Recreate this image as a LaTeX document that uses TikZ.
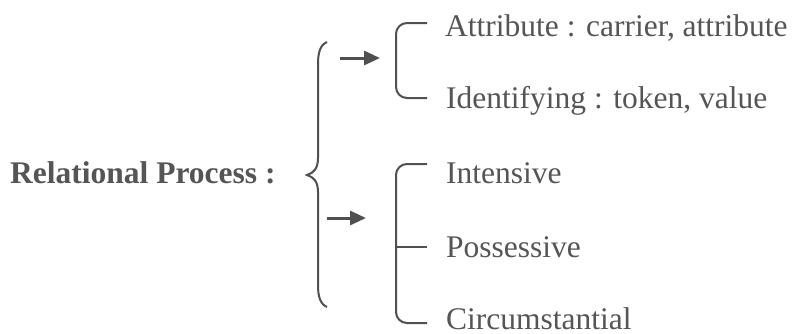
\documentclass[tikz,border=0pt]{standalone}
\usepackage{fontspec}
\setmainfont{Liberation Serif}
\usetikzlibrary{arrows.meta}
\definecolor{ink}{HTML}{555555}
\definecolor{rule}{HTML}{505050}
\begin{document}
\begin{tikzpicture}[x=1pt,y=-1pt,
  label/.style={anchor=base west,inner sep=0pt,text=ink,font=\fontsize{31.5}{34}\selectfont},
  head/.style={label,font=\fontsize{31.5}{34}\selectfont\bfseries},
  bracketline/.style={draw=rule,line width=2pt,rounded corners=11pt},
  braceline/.style={draw=rule,line width=2pt},
  pointer/.style={draw=rule,line width=3pt,-{Triangle[length=16pt,width=14pt]}}]
\useasboundingbox (0,0) rectangle (793,333);

% main label
\node[head] (rel) at (10,183) {Relational Process :};

% upper group
\node[label] (attr)  at (445,36)  {Attribute : carrier, attribute};
\node[label] (ident) at (446,108) {Identifying : token, value};

% lower group
\node[label] (inten) at (446,183) {Intensive};
\node[label] (poss)  at (446,257) {Possessive};
\node[label] (circ)  at (446,329) {Circumstantial};

% large curly brace
\draw[braceline] (327,42) .. controls (320,45) and (318,53) .. (318,64)
  -- (318,158) .. controls (318,168) and (314,173) .. (307,175)
  .. controls (314,177) and (318,182) .. (318,192)
  -- (318,285) .. controls (318,296) and (320,304) .. (327,307);

% arrows into the two groups
\coordinate (a1s) at (340,58);
\coordinate (a1e) at (380,58);
\coordinate (a2s) at (327,218);
\coordinate (a2e) at (366,218);
\draw[pointer] (a1s) -- (a1e);
\draw[pointer] (a2s) -- (a2e);

% bracket of the upper group
\draw[bracketline] (427,23) -- (396,23) -- (396,98) -- (427,98);

% bracket of the lower group with its middle tick
\draw[bracketline] (427,164) -- (396,164) -- (396,323) -- (427,323);
\draw[braceline] (396,247) -- (427,247);
\end{tikzpicture}
\end{document}
